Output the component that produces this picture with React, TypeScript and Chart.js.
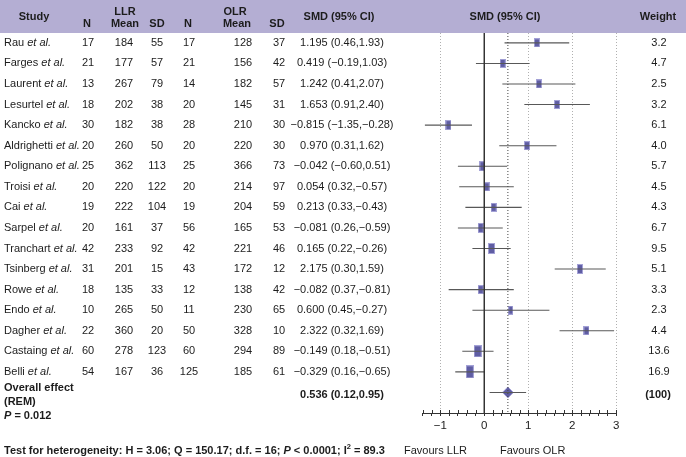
import React, { useEffect, useRef } from 'react';
import { Chart, registerables } from 'chart.js';

Chart.register(...registerables);

// ---------- data ----------
const studyNames = ['Rau', 'Farges', 'Laurent', 'Lesurtel', 'Kancko', 'Aldrighetti', 'Polignano', 'Troisi', 'Cai', 'Sarpel', 'Tranchart', 'Tsinberg', 'Rowe', 'Endo', 'Dagher', 'Castaing', 'Belli'];
const llrN = [17, 21, 13, 18, 30, 20, 25, 20, 19, 20, 42, 31, 18, 10, 22, 60, 54];
const llrMean = [184, 177, 267, 202, 182, 260, 362, 220, 222, 161, 233, 201, 135, 265, 360, 278, 167];
const llrSD = [55, 57, 79, 38, 38, 50, 113, 122, 104, 37, 92, 15, 33, 50, 20, 123, 36];
const olrN = [17, 21, 14, 20, 28, 20, 25, 20, 19, 56, 42, 43, 12, 11, 50, 60, 125];
const olrMean = [128, 156, 182, 145, 210, 220, 366, 214, 204, 165, 221, 172, 138, 230, 328, 294, 185];
const olrSD = [37, 42, 57, 31, 30, 30, 73, 97, 59, 53, 46, 12, 42, 65, 10, 89, 61];
const smdLabels = [
  '1.195 (0.46,1.93)',
  '0.419 (\u22120.19,1.03)',
  '1.242 (0.41,2.07)',
  '1.653 (0.91,2.40)',
  '\u22120.815 (\u22121.35,\u22120.28)',
  '0.970 (0.31,1.62)',
  '\u22120.042 (\u22120.60,0.51)',
  '0.054 (0.32,\u22120.57)',
  '0.213 (0.33,\u22120.43)',
  '\u22120.081 (0.26,\u22120.59)',
  '0.165 (0.22,\u22120.26)',
  '2.175 (0.30,1.59)',
  '\u22120.082 (0.37,\u22120.81)',
  '0.600 (0.45,\u22120.27)',
  '2.322 (0.32,1.69)',
  '\u22120.149 (0.18,\u22120.51)',
  '\u22120.329 (0.16,\u22120.65)',
];
const smd = [1.195, 0.419, 1.242, 1.653, -0.815, 0.97, -0.042, 0.054, 0.213, -0.081, 0.165, 2.175, -0.082, 0.6, 2.322, -0.149, -0.329];
const ciLow = [0.46, -0.19, 0.41, 0.91, -1.35, 0.34, -0.6, -0.57, -0.43, -0.6, -0.27, 1.6, -0.81, -0.27, 1.71, -0.5, -0.66];
const ciHigh = [1.93, 1.03, 2.07, 2.4, -0.28, 1.64, 0.52, 0.67, 0.85, 0.42, 0.6, 2.76, 0.67, 1.48, 2.95, 0.21, 0.0];
const weights = [3.2, 4.7, 2.5, 3.2, 6.1, 4.0, 5.7, 4.5, 4.3, 6.7, 9.5, 5.1, 3.3, 2.3, 4.4, 13.6, 16.9];
const weightLabels = ['3.2', '4.7', '2.5', '3.2', '6.1', '4.0', '5.7', '4.5', '4.3', '6.7', '9.5', '5.1', '3.3', '2.3', '4.4', '13.6', '16.9'];
const overallSmd = 0.536;
const overallLow = 0.12;
const overallHigh = 0.95;
const overallLabel = '0.536 (0.12,0.95)';
const overallWeightLabel = '(100)';
const xMin = -1.4;
const xMax = 3;
const xStep = 0.2;
const yMin = -0.48;
const yMax = 18.0;

// ---------- styles ----------
const FAMILY = '"Liberation Sans", Arial, Helvetica, sans-serif';
const font = (size: number, weight = 'normal', style = 'normal') => `${style} ${weight} ${size}px ${FAMILY}`;
const TEXT = '#1c1c1c';
const HEADER_BG = '#b4aed3';
const MARK_FILL = '#5f5da3';
const MARK_EDGE = '#a3a1d6';
const CI_COLOR = '#585858';

function drawSegs(ctx: CanvasRenderingContext2D, x: number, y: number, segs: [string, string, number?][]) {
  let cx = x;
  ctx.textAlign = 'left';
  for (const [t, f, dy] of segs) {
    ctx.font = f;
    ctx.fillText(t, cx, y + (dy || 0));
    cx += ctx.measureText(t).width;
  }
}

const tablePlugin = {
  id: 'tablePlugin',
  beforeDraw(chart: any) {
    const ctx = chart.ctx as CanvasRenderingContext2D;
    ctx.save();
    ctx.fillStyle = HEADER_BG;
    ctx.fillRect(0, 0, chart.width, chart.chartArea.top);
    ctx.restore();
  },
  afterDraw(chart: any) {
    const ctx = chart.ctx as CanvasRenderingContext2D;
    const ys = chart.scales.y;
    const xs = chart.scales.x;
    const area = chart.chartArea;
    ctx.save();
    // upward tick marks
    ctx.strokeStyle = '#333';
    ctx.lineWidth = 1;
    for (const t of xs.ticks) {
      const px = Math.round(xs.getPixelForValue(t.value)) + 0.5;
      ctx.beginPath();
      ctx.moveTo(px, area.bottom);
      ctx.lineTo(px, area.bottom - 3);
      ctx.stroke();
    }

    ctx.fillStyle = TEXT;
    ctx.textBaseline = 'middle';
    // header
    ctx.font = font(11, 'bold');
    ctx.textAlign = 'center';
    const hdr: [string, number, number][] = [
      ['Study', 34, 17], ['N', 87, 24], ['LLR', 125, 12], ['Mean', 125, 24], ['SD', 157, 24],
      ['N', 188, 24], ['OLR', 235, 12], ['Mean', 237, 24], ['SD', 277, 24],
      ['SMD (95% CI)', 339, 17], ['SMD (95% CI)', 505, 17], ['Weight', 658, 17],
    ];
    for (const [t, x, y] of hdr) ctx.fillText(t, x, y);

    // rows
    studyNames.forEach((name, i) => {
      const y = ys.getPixelForValue(i);
      drawSegs(ctx, 4, y, [[name + ' ', font(11)], ['et al.', font(11, 'normal', 'italic')]]);
      ctx.font = font(11);
      ctx.textAlign = 'center';
      ctx.fillText(String(llrN[i]), 88, y);
      ctx.fillText(String(llrMean[i]), 124, y);
      ctx.fillText(String(llrSD[i]), 157, y);
      ctx.fillText(String(olrN[i]), 189, y);
      ctx.fillText(String(olrMean[i]), 243, y);
      ctx.fillText(String(olrSD[i]), 279, y);
      ctx.fillText(smdLabels[i], 342, y);
      ctx.fillText(weightLabels[i], 659, y);
    });

    // overall
    const oy = ys.getPixelForValue(studyNames.length);
    drawSegs(ctx, 4, oy - 4.5, [['Overall effect', font(11, 'bold')]]);
    drawSegs(ctx, 4, oy + 9.5, [['(REM)', font(11, 'bold')]]);
    drawSegs(ctx, 4, oy + 23.5, [['P', font(11, 'bold', 'italic')], [' = 0.012', font(11, 'bold')]]);
    ctx.font = font(11, 'bold');
    ctx.textAlign = 'center';
    ctx.fillText(overallLabel, 342, oy + 2.5);
    ctx.fillText(overallWeightLabel, 658, oy + 2.5);

    // bottom line
    const by = chart.height - 6.5;
    drawSegs(ctx, 4, by, [
      ['Test for heterogeneity: H = 3.06; Q = 150.17; d.f. = 16; ', font(11, 'bold')],
      ['P', font(11, 'bold', 'italic')],
      [' < 0.0001; I', font(11, 'bold')],
      ['2', font(7.5, 'bold'), -4],
      [' = 89.3', font(11, 'bold')],
    ]);
    drawSegs(ctx, 404, by, [['Favours LLR', font(11)]]);
    drawSegs(ctx, 500, by, [['Favours OLR', font(11)]]);
    ctx.restore();
  },
};

const isInt = (v: number) => Math.abs(v - Math.round(v)) < 1e-6;

export default function App() {
  const ref = useRef<HTMLCanvasElement>(null);
  useEffect(() => {
    const canvas = ref.current;
    if (!canvas) return;

    const makeRect = (w: number) => {
      const c = document.createElement('canvas');
      const width = Math.round(5 + 0.2 * w);
      const height = Math.round(8 + 0.3 * w);
      c.width = width;
      c.height = height;
      const g = c.getContext('2d')!;
      g.fillStyle = MARK_EDGE;
      g.fillRect(0, 0, width, height);
      g.fillStyle = MARK_FILL;
      g.fillRect(1, 1, width - 2, height - 2);
      return c;
    };

    const nRows = studyNames.length;
    const datasets: any[] = [];
    datasets.push({
      data: [{ x: 0, y: yMin }, { x: 0, y: yMax }],
      showLine: true, borderColor: '#333', borderWidth: 1, pointRadius: 0,
    });
    datasets.push({
      data: [{ x: overallSmd, y: yMin }, { x: overallSmd, y: yMax }],
      showLine: true, borderColor: '#444', borderWidth: 1, borderDash: [1, 2], pointRadius: 0,
    });
    studyNames.forEach((_, i) => {
      datasets.push({
        data: [{ x: ciLow[i], y: i }, { x: ciHigh[i], y: i }],
        showLine: true, borderColor: CI_COLOR, borderWidth: 1.1, pointRadius: 0,
      });
    });
    datasets.push({
      data: [{ x: overallLow, y: nRows }, { x: overallHigh, y: nRows }],
      showLine: true, borderColor: CI_COLOR, borderWidth: 1.1, pointRadius: 0,
    });
    datasets.push({
      data: smd.map((v, i) => ({ x: v, y: i })),
      showLine: false, pointStyle: weights.map(makeRect), pointRadius: 5,
    });
    datasets.push({
      data: [{ x: overallSmd, y: nRows }],
      showLine: false, pointStyle: 'rectRot', pointRadius: 5.5,
      backgroundColor: MARK_FILL, borderColor: MARK_EDGE, borderWidth: 1,
    });

    const chart = new Chart(canvas, {
      type: 'scatter',
      data: { datasets },
      options: {
        animation: false,
        responsive: true,
        maintainAspectRatio: false,
        events: [],
        layout: { padding: { left: 422.7, right: 69.7, top: 33, bottom: 20 } },
        plugins: { legend: { display: false }, tooltip: { enabled: false } },
        scales: {
          x: {
            type: 'linear',
            min: xMin,
            max: xMax,
            afterFit: (s: any) => { s.height = 24; },
            ticks: {
              stepSize: xStep,
              autoSkip: false,
              maxRotation: 0,
              padding: 3,
              color: TEXT,
              font: { family: FAMILY, size: 11.5 },
              callback: (v: any) => {
                const n = Number(v);
                if (!isInt(n)) return '';
                const r = Math.round(n);
                return r < 0 ? '\u2212' + Math.abs(r) : String(r);
              },
            },
            grid: {
              drawOnChartArea: true,
              drawTicks: true,
              tickLength: 3,
              tickColor: '#333',
              lineWidth: 1,
              color: (c: any) => {
                const v = c.tick ? c.tick.value : NaN;
                return isInt(v) && Math.round(v) !== 0 ? '#b0b0b0' : 'rgba(0,0,0,0)';
              },
            },
            border: { display: true, color: '#333', width: 1, dash: [1, 2] },
          },
          y: { type: 'linear', reverse: true, min: yMin, max: yMax, display: false },
        },
      },
      plugins: [tablePlugin],
    } as any);
    return () => chart.destroy();
  }, []);

  return (
    <div style={{ position: 'absolute', left: 0, top: 0, width: 686, height: 457, background: '#fff' }}>
      <canvas ref={ref} />
    </div>
  );
}
